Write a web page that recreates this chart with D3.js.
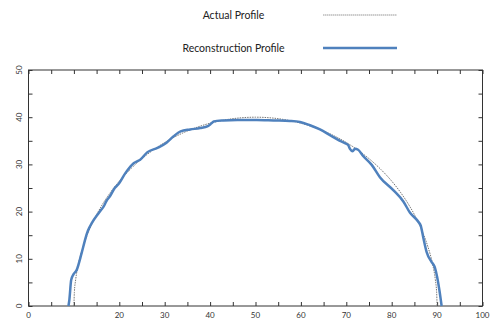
<!DOCTYPE html>
<html>
<head>
<meta charset="utf-8">
<script src="https://cdn.jsdelivr.net/npm/d3@7/dist/d3.min.js"></script>
<style>
  html, body { margin: 0; padding: 0; background: #fff; }
  svg { display: block; }
  text { font-family: Lato, "Open Sans", sans-serif; }
</style>
</head>
<body>
<svg id="chart" width="492" height="322"></svg>
<script>
// Actual (reference) profile: semicircular cross-section
const actualX = [10, 10.1, 10.4, 11, 12, 13, 14, 16, 18, 20, 23, 26, 30, 34, 38, 42, 46, 50,
                 54, 58, 62, 66, 70, 74, 77, 80, 82, 84, 86, 87, 88, 89, 89.6, 89.9, 90];
const actualY = [0, 2.83, 5.64, 8.89, 12.49, 15.2, 17.44, 21.07, 24, 26.46, 29.51, 32, 34.64, 36.66, 38.16, 39.19, 39.8, 40,
                 39.8, 39.19, 38.16, 36.66, 34.64, 32, 29.51, 26.46, 24, 21.07, 17.44, 15.2, 12.49, 8.89, 5.64, 2.83, 0];

// Reconstructed profile
const reconX = [8.8, 9.0, 9.4, 9.9, 10.6, 11.7, 12.4, 12.8, 13.5, 13.9, 15.4, 16.1, 16.5, 17.2, 17.9, 19.0, 19.8,
                21.3, 21.6, 23.1, 23.8, 24.6, 26.2, 28.4, 30.4, 31.9, 33.5, 35.6, 37.8, 39.5, 40.3, 40.8, 42.9,
                46, 50.3, 54, 57.6, 59.8, 62.0, 64.2, 66.4, 68.2, 69.7, 70.4, 70.8, 71.4, 71.9, 72.6, 73.7,
                75.6, 77.4, 80.4, 82.6, 84.0, 85.9, 86.4, 87.0, 87.7, 88.8, 89.5, 90.0, 90.5, 91.0];
const reconY = [0, 1.3, 5.5, 6.7, 7.6, 11.2, 13.8, 15.2, 16.8, 17.5, 19.6, 20.5, 21.0, 22.3, 23.2, 25.0, 25.8,
                28.1, 28.5, 30.2, 30.6, 31.0, 32.6, 33.5, 34.6, 35.9, 37.0, 37.4, 37.7, 38.1, 38.7, 39.1, 39.3,
                39.4, 39.4, 39.3, 39.2, 39.0, 38.3, 37.4, 36.2, 35.2, 34.5, 34.1, 33.3, 32.8, 33.3, 33.1, 31.8,
                29.9, 27.3, 24.5, 22.1, 19.8, 17.8, 17.0, 14.3, 11.4, 9.3, 8.2, 6.2, 3.4, 0];

const xTickLabels = [0, 20, 30, 40, 50, 60, 70, 80, 90, 100];
const yTickLabels = [0, 10, 20, 30, 40, 50];
const minorStep = 5;
const seriesNames = ["Actual Profile", "Reconstruction Profile"];

const svg = d3.select("#chart");
const plotLeft = 28.5, plotRight = 482.5, plotTop = 70, plotBottom = 306;

const x = d3.scaleLinear().domain([0, 100]).range([plotLeft, plotRight]);
const y = d3.scaleLinear().domain([0, 50]).range([plotBottom, plotTop]);

const axisColor = "#333";
const blue = "#4f81bd";
const g = svg.append("g");

// Frame
g.append("rect")
  .attr("x", plotLeft).attr("y", plotTop)
  .attr("width", plotRight - plotLeft).attr("height", plotBottom - plotTop)
  .attr("fill", "none").attr("stroke", axisColor).attr("stroke-width", 1);

const xTicks = d3.range(0, 100 + 0.001, minorStep);
const yTicks = d3.range(0, 50 + 0.001, minorStep);
const tickLen = 4;

// Inward ticks on all four sides
const bottomAxis = d3.axisBottom(x).tickValues(xTicks).tickSizeInner(-tickLen).tickSizeOuter(0).tickFormat("");
const topAxis = d3.axisTop(x).tickValues(xTicks).tickSizeInner(-tickLen).tickSizeOuter(0).tickFormat("");
const leftAxis = d3.axisLeft(y).tickValues(yTicks).tickSizeInner(-tickLen).tickSizeOuter(0).tickFormat("");
const rightAxis = d3.axisRight(y).tickValues(yTicks).tickSizeInner(-tickLen).tickSizeOuter(0).tickFormat("");

[[bottomAxis, `translate(0,${plotBottom})`], [topAxis, `translate(0,${plotTop})`],
 [leftAxis, `translate(${plotLeft},0)`], [rightAxis, `translate(${plotRight},0)`]].forEach(([ax, tr]) => {
  const a = g.append("g").attr("transform", tr).call(ax);
  a.select(".domain").remove();
  a.selectAll("line").attr("stroke", axisColor);
});

// Tick labels
g.append("g").selectAll("text").data(xTickLabels).join("text")
  .attr("x", d => x(d)).attr("y", plotBottom + 12)
  .attr("text-anchor", "middle")
  .attr("font-size", 8).attr("fill", "#333")
  .text(d => d);

g.append("g").selectAll("text").data(yTickLabels).join("text")
  .attr("transform", d => `translate(${plotLeft - 7},${y(d)}) rotate(-90)`)
  .attr("text-anchor", "middle")
  .attr("font-size", 8).attr("fill", "#333")
  .text(d => d);

// Series lines
const actualData = actualX.map((v, i) => [v, actualY[i]]);
const reconData = reconX.map((v, i) => [v, reconY[i]]);

const line = d3.line().x(d => x(d[0])).y(d => y(d[1])).curve(d3.curveMonotoneX);

g.append("path").datum(actualData)
  .attr("d", line)
  .attr("fill", "none")
  .attr("stroke", "#777")
  .attr("stroke-width", 1)
  .attr("stroke-dasharray", "1.5,1");

g.append("path").datum(reconData)
  .attr("d", line)
  .attr("fill", "none")
  .attr("stroke", blue)
  .attr("stroke-width", 2.5)
  .attr("stroke-linejoin", "round");

// Legend
const legend = svg.append("g");
const legendRows = [
  { name: seriesNames[0], y: 15, stroke: "#999", width: 1, dash: "1.5,0.5" },
  { name: seriesNames[1], y: 48, stroke: blue, width: 2.5, dash: null }
];
legendRows.forEach(r => {
  legend.append("text")
    .attr("x", 233.5).attr("y", r.y + 4)
    .attr("text-anchor", "middle")
    .attr("font-size", 10.5).attr("fill", "#222")
    .text(r.name);
  legend.append("line")
    .attr("x1", 323).attr("x2", 397)
    .attr("y1", r.y).attr("y2", r.y)
    .attr("stroke", r.stroke).attr("stroke-width", r.width)
    .attr("stroke-dasharray", r.dash);
});
</script>
</body>
</html>
